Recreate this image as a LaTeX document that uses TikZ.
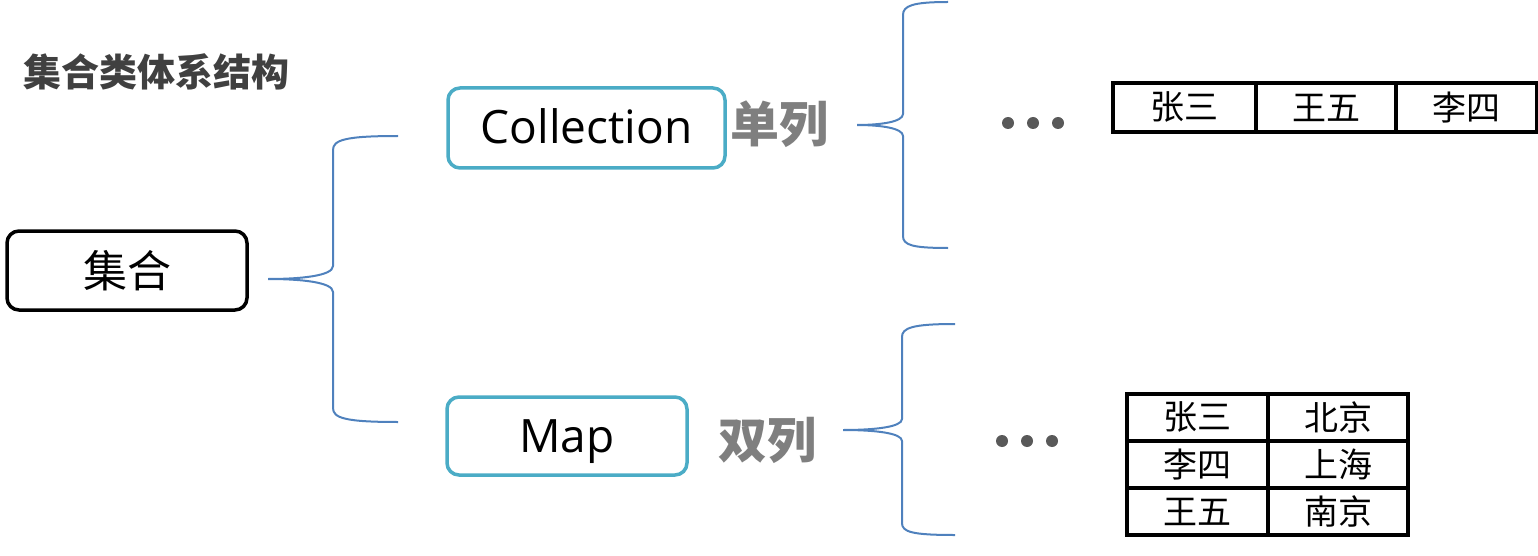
\documentclass[tikz,border=0pt]{standalone}
\usepackage{fontspec}
\setmainfont{Open Sans}
\newfontfamily\cjk{Noto Sans CJK SC}
\definecolor{tealline}{HTML}{4BACC6}
\definecolor{braceblue}{HTML}{4F81BD}
\definecolor{dotgray}{HTML}{595959}
\definecolor{labelgray}{HTML}{7F7F7F}
\definecolor{titlegray}{HTML}{404040}
\begin{document}
\begin{tikzpicture}[x=1pt,y=-1pt,
  box/.style={draw, rounded corners=12pt, line width=3.5pt, inner sep=0pt},
  blackbox/.style={box, draw=black, font=\cjk\fontsize{44}{44}\selectfont},
  tealbox/.style={box, draw=tealline, text height=32pt, text depth=0pt, font=\fontsize{46}{46}\selectfont},
  brace/.style={draw=braceblue, line width=2pt},
  cell/.style={draw=black, line width=3.8pt, inner sep=0pt, font=\cjk\fontsize{34}{34}\selectfont},
  dot/.style={circle, fill=dotgray, inner sep=0pt, minimum size=12pt},
  lbl/.style={text=labelgray, inner sep=0pt, font=\cjk\bfseries\fontsize{49}{49}\selectfont},
  ttl/.style={text=titlegray, inner sep=0pt, font=\cjk\bfseries\fontsize{38}{38}\selectfont}]
\useasboundingbox (0,0) rectangle (1538,556);

% title
\node[ttl, anchor=west] (title) at (23,72) {集合类体系结构};

% main boxes
\node[blackbox, minimum width=240pt, minimum height=79pt] (set) at (127,270.5) {集合};
\node[tealbox, minimum width=277pt, minimum height=80pt] (coll) at (586.5,128) {Collection};
\node[tealbox, minimum width=240pt, minimum height=78pt] (map) at (567,436) {Map};

% labels
\node[lbl] (single) at (779,124) {单列};
\node[lbl] (double) at (767,440) {双列};

% brace 1
\coordinate (b1tip) at (268,279);
\coordinate (b1top) at (398,136);
\coordinate (b1bot) at (398,422);
\draw[brace] (b1top) .. controls (345,136) and (333,140) .. (333,150) -- (333,266)
  .. controls (333,276) and (300,279) .. (b1tip)
  .. controls (300,279) and (333,282) .. (333,292) -- (333,408)
  .. controls (333,418) and (345,422) .. (b1bot);

% brace 2
\coordinate (b2tip) at (857,125);
\coordinate (b2top) at (948,2);
\coordinate (b2bot) at (948,248);
\draw[brace] (b2top) .. controls (912,2) and (903,6) .. (903,15) -- (903,114)
  .. controls (903,122) and (880,125) .. (b2tip)
  .. controls (880,125) and (903,128) .. (903,136) -- (903,236)
  .. controls (903,245) and (912,248) .. (b2bot);

% brace 3
\coordinate (b3tip) at (843,430);
\coordinate (b3top) at (955,324);
\coordinate (b3bot) at (955,535);
\draw[brace] (b3top) .. controls (912,324) and (902,328) .. (902,337) -- (902,419)
  .. controls (902,427) and (875,430) .. (b3tip)
  .. controls (875,430) and (902,433) .. (902,441) -- (902,523)
  .. controls (902,532) and (912,535) .. (b3bot);

% dots
\node[dot] (d1) at (1008,123) {};
\node[dot] (d2) at (1033,123) {};
\node[dot] (d3) at (1058,123) {};
\node[dot] (d4) at (1002,441) {};
\node[dot] (d5) at (1027,441) {};
\node[dot] (d6) at (1052,441) {};

% table 1
\node[cell, minimum width=143pt, minimum height=49pt] (t11) at (1184.5,107.5) {张三};
\node[cell, minimum width=140pt, minimum height=49pt] (t12) at (1326,107.5) {王五};
\node[cell, minimum width=141pt, minimum height=49pt] (t13) at (1466.5,107.5) {李四};

% table 2
\node[cell, minimum width=141pt, minimum height=47pt] (m11) at (1197.5,417.5) {张三};
\node[cell, minimum width=140pt, minimum height=47pt] (m12) at (1338,417.5) {北京};
\node[cell, minimum width=141pt, minimum height=47pt] (m21) at (1197.5,464.5) {李四};
\node[cell, minimum width=140pt, minimum height=47pt] (m22) at (1338,464.5) {上海};
\node[cell, minimum width=141pt, minimum height=47pt] (m31) at (1197.5,511.5) {王五};
\node[cell, minimum width=140pt, minimum height=47pt] (m32) at (1338,511.5) {南京};
\end{tikzpicture}
\end{document}
